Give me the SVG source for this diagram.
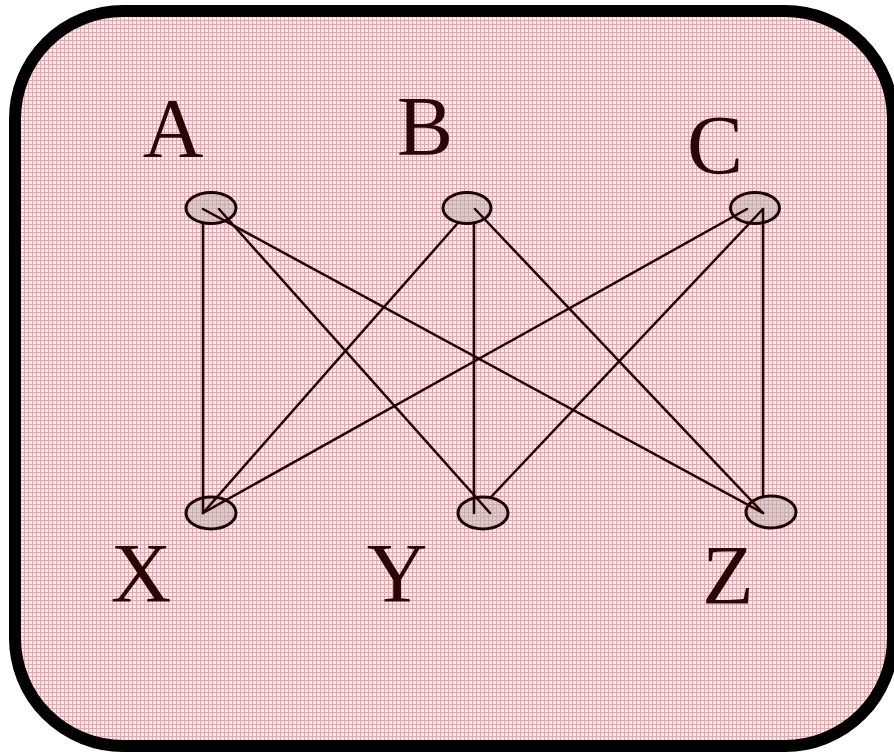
<svg xmlns="http://www.w3.org/2000/svg" width="894" height="752" viewBox="0 0 894 752">
  <defs>
    <pattern id="grid" x="0" y="0" width="4" height="4" patternUnits="userSpaceOnUse">
      <rect width="4" height="4" fill="#fdeaec"/>
      <rect x="0" y="0" width="4" height="1" fill="#eba2a8"/>
      <rect x="0" y="0" width="1" height="4" fill="#eba2a8"/>
    </pattern>
  </defs>
  <style>
    .node ellipse { fill: #b8b0b0; fill-opacity: 0.5; stroke: #1a0000; stroke-width: 3; }
    .node text { font-family: "Liberation Serif", "Times New Roman", serif; font-size: 84px; fill: #2a0505; text-anchor: middle; }
    #connectors line { stroke: #200000; stroke-width: 2.5; stroke-linecap: round; }
  </style>
  <rect id="frame" x="15" y="11" width="878" height="735" rx="108" ry="108" fill="url(#grid)" stroke="#000" stroke-width="12"/>
  <g id="node-A" class="node">
    <ellipse cx="211" cy="208" rx="25" ry="15.5"/>
    <text x="173" y="157">A</text>
  </g>
  <g id="node-B" class="node">
    <ellipse cx="467" cy="208" rx="24" ry="15.5"/>
    <text x="425" y="155">B</text>
  </g>
  <g id="node-C" class="node">
    <ellipse cx="755" cy="208" rx="24.5" ry="15.5"/>
    <text x="715" y="174">C</text>
  </g>
  <g id="node-X" class="node">
    <ellipse cx="211" cy="513" rx="25" ry="16"/>
    <text x="141" y="602">X</text>
  </g>
  <g id="node-Y" class="node">
    <ellipse cx="483" cy="513" rx="25" ry="16"/>
    <text x="397" y="602">Y</text>
  </g>
  <g id="node-Z" class="node">
    <ellipse cx="771" cy="512" rx="25" ry="16"/>
    <text x="728" y="604">Z</text>
  </g>
  <g id="connectors">
    <line x1="203" y1="223" x2="203" y2="513"/>
    <line x1="219" y1="209" x2="490" y2="513"/>
    <line x1="203" y1="209" x2="763" y2="513"/>
    <line x1="457" y1="224" x2="203" y2="513"/>
    <line x1="474" y1="223" x2="474" y2="513"/>
    <line x1="475" y1="209" x2="763" y2="513"/>
    <line x1="747" y1="209" x2="203" y2="513"/>
    <line x1="763" y1="209" x2="491" y2="497"/>
    <line x1="763" y1="209" x2="763" y2="497"/>
  </g>
</svg>
